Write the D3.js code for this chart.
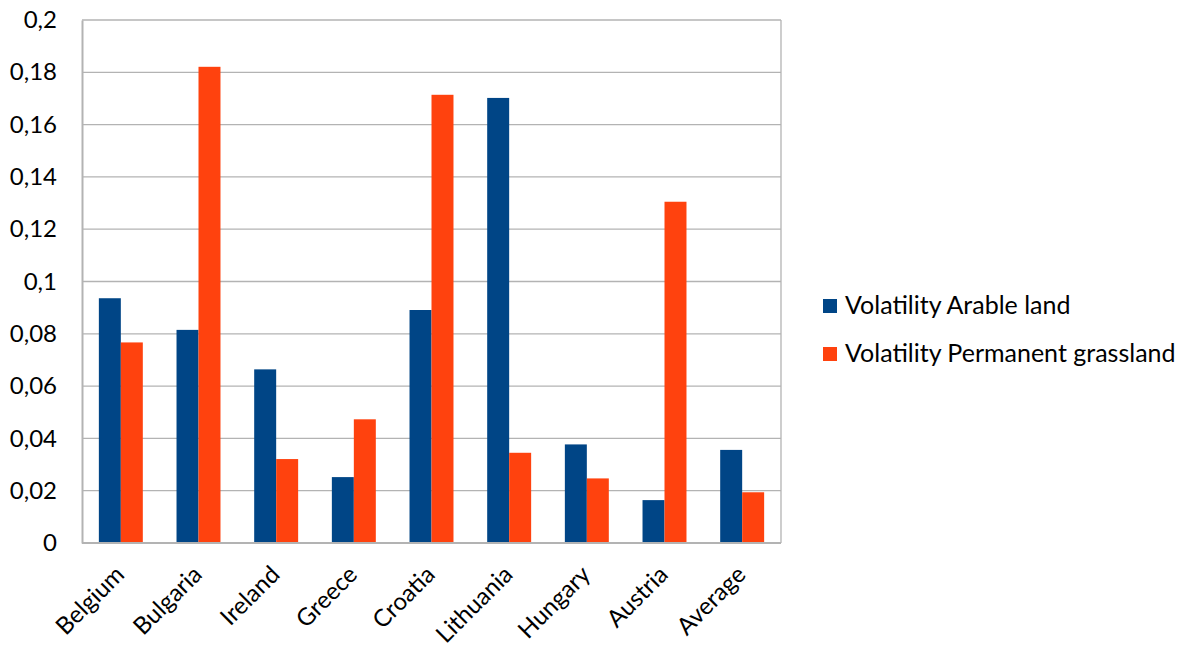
<!DOCTYPE html>
<html>
<head>
<meta charset="utf-8">
<script src="https://cdn.jsdelivr.net/npm/d3@7"></script>
<style>
  html, body { margin: 0; padding: 0; background: #fff; }
  svg { display: block; font-family: Lato, "Liberation Sans", sans-serif; }
</style>
</head>
<body>
<svg id="chart" width="1183" height="645"></svg>
<script>
// Countries on the x axis
const categories = ["Belgium", "Bulgaria", "Ireland", "Greece", "Croatia", "Lithuania", "Hungary", "Austria", "Average"];
// Volatility per country for each land use
const arableLand = [0.0936, 0.0815, 0.0664, 0.0252, 0.0891, 0.1702, 0.0377, 0.0164, 0.0356];
const permanentGrassland = [0.0767, 0.1821, 0.0321, 0.0473, 0.1714, 0.0345, 0.0247, 0.1305, 0.0194];
const seriesNames = ["Volatility Arable land", "Volatility Permanent grassland"];
const seriesColors = ["#004586", "#ff420e"];
const yTicks = [0, 0.02, 0.04, 0.06, 0.08, 0.1, 0.12, 0.14, 0.16, 0.18, 0.2];

const svg = d3.select("#chart");
const plot = { left: 82, right: 781, top: 20, bottom: 543 };
const fontSize = 24;

const x = d3.scaleBand().domain(categories).range([plot.left, plot.right]).paddingInner(0.434).paddingOuter(0.217);
const xSub = d3.scaleBand().domain([0, 1]).range([0, x.bandwidth()]);
const y = d3.scaleLinear().domain([0, 0.2]).range([plot.bottom, plot.top]);

const fmt = d => String(+d.toFixed(2)).replace(".", ",");

// Horizontal gridlines
svg.append("g")
  .selectAll("line").data(yTicks.slice(1)).join("line")
  .attr("x1", plot.left).attr("x2", plot.right)
  .attr("y1", d => y(d)).attr("y2", d => y(d))
  .attr("stroke", "#b3b3b3").attr("stroke-width", 1.3);

// Right border of the plot area
svg.append("line")
  .attr("x1", plot.right).attr("x2", plot.right)
  .attr("y1", plot.top).attr("y2", plot.bottom)
  .attr("stroke", "#b3b3b3").attr("stroke-width", 1.3);

// Bars
const rows = categories.map((c, i) => ({ c, vals: [arableLand[i], permanentGrassland[i]] }));
const groups = svg.append("g").selectAll("g").data(rows).join("g")
  .attr("transform", d => `translate(${x(d.c)},0)`);
groups.selectAll("rect").data(d => d.vals.map((v, k) => ({ v, k }))).join("rect")
  .attr("x", d => xSub(d.k))
  .attr("width", xSub.bandwidth())
  .attr("y", d => y(d.v))
  .attr("height", d => y(0) - y(d.v))
  .attr("fill", d => seriesColors[d.k]);

// Y axis
const yAxis = svg.append("g")
  .attr("transform", `translate(${plot.left},0)`)
  .call(d3.axisLeft(y).tickValues(yTicks).tickFormat(fmt).tickSize(0).tickPadding(25));
yAxis.select(".domain").attr("stroke", "#b3b3b3").attr("stroke-width", 2);
yAxis.selectAll("text").attr("font-size", fontSize).attr("fill", "#000").attr("font-family", "Lato, sans-serif");

// X axis
const xAxis = svg.append("g")
  .attr("transform", `translate(0,${plot.bottom})`)
  .call(d3.axisBottom(x).tickSize(0).tickPadding(0));
xAxis.select(".domain").attr("stroke", "#b3b3b3").attr("stroke-width", 2)
  .attr("d", `M${plot.left},0H${plot.right}`);
xAxis.selectAll("text")
  .attr("font-size", fontSize).attr("fill", "#000").attr("font-family", "Lato, sans-serif")
  .attr("text-anchor", "end")
  .attr("dy", 0)
  .attr("transform", "translate(5,33) rotate(-45)");

// Legend
const legend = svg.append("g").attr("transform", "translate(823,0)");
const legendY = [306, 354];
seriesNames.forEach((name, k) => {
  legend.append("rect")
    .attr("x", 0).attr("y", legendY[k] - 7)
    .attr("width", 14).attr("height", 14)
    .attr("fill", seriesColors[k]);
  legend.append("text")
    .attr("x", 22).attr("y", legendY[k] + 8)
    .attr("font-size", 25).attr("fill", "#000")
    .text(name);
});
</script>
</body>
</html>
